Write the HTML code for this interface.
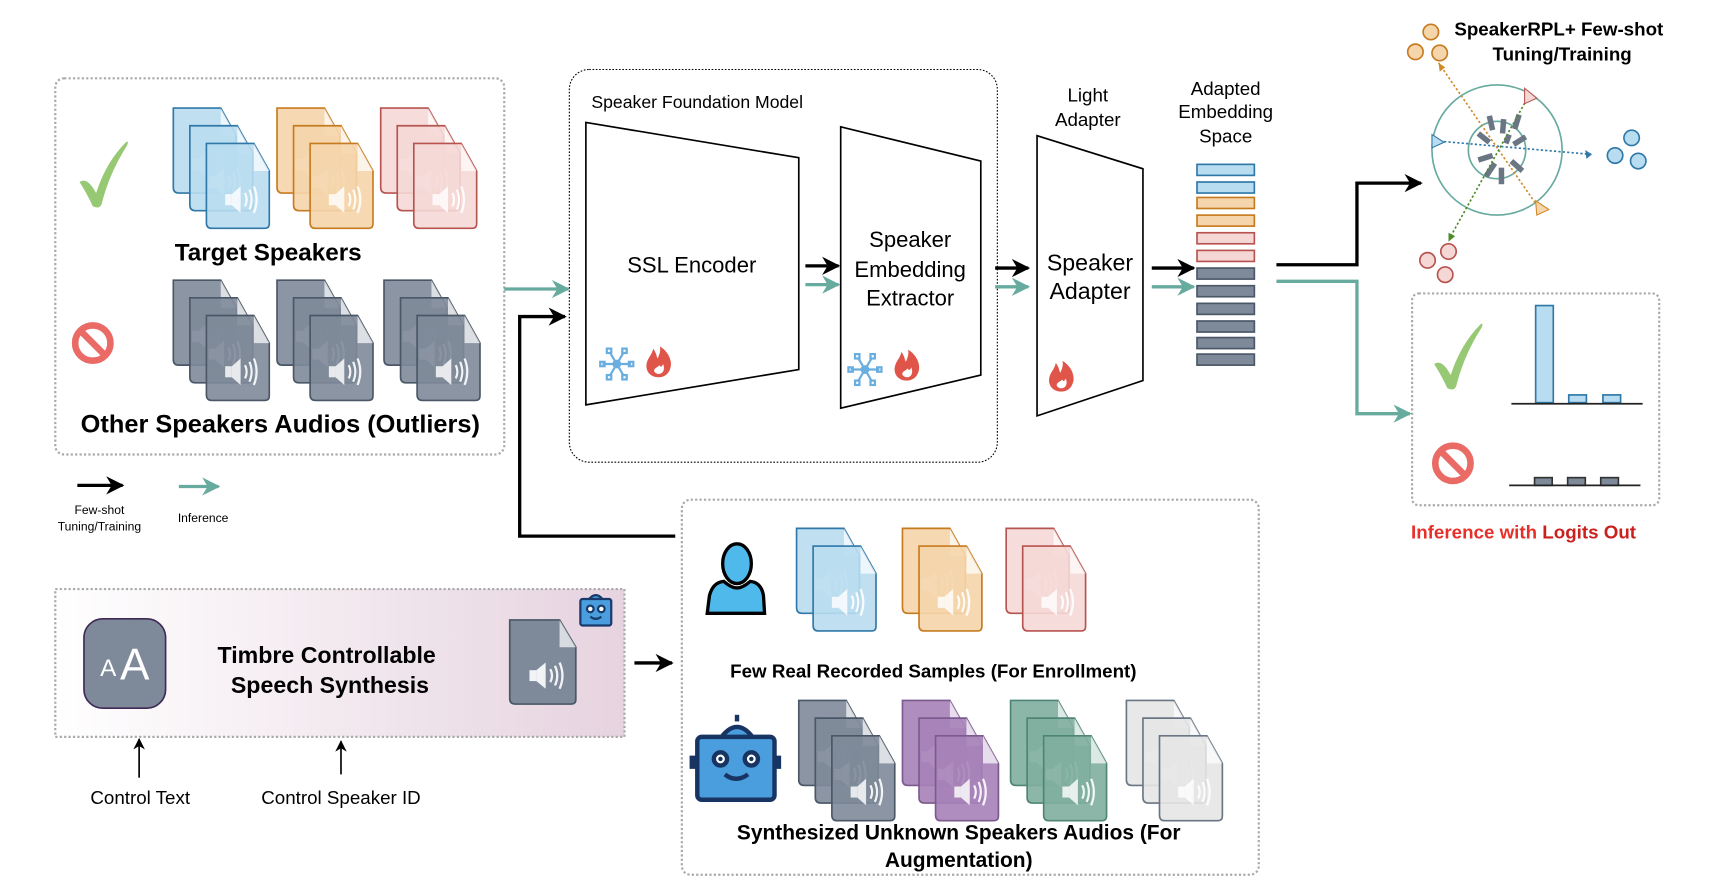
<!DOCTYPE html>
<html><head><meta charset="utf-8"><style>
html,body{margin:0;padding:0;background:#fff;}
svg{display:block;}
text{font-family:"Liberation Sans",Arial,sans-serif;}
</style></head><body>
<svg width="1720" height="888" viewBox="0 0 1559 805" xmlns="http://www.w3.org/2000/svg">
<defs>
<g id="doc">
  <path d="M0,0 H43 L57,25 V73 Q57,77 53,77 H5 Q0,77 0,72 Z"/>
  <path d="M43,0 L57,25 H43 Z" fill="#fff" fill-opacity="0.7" stroke="none"/>
  <g fill="#fff" stroke="none" opacity="0.9">
    <rect x="17" y="46" width="6" height="10"/>
    <path d="M23,46 L31,39 V63 L23,56 Z"/>
  </g>
  <g fill="none" stroke="#fff" stroke-width="2" opacity="0.9">
    <path d="M35,45 Q38,51 35,57"/><path d="M39,42 Q43,51 39,60"/><path d="M43,39 Q48,51 43,63"/>
  </g>
</g>
<g id="stack3">
  <use href="#doc" x="0" y="0"/><use href="#doc" x="15" y="16"/><use href="#doc" x="30" y="32"/>
</g>
<g id="stack2">
  <use href="#doc" x="0" y="0"/><use href="#doc" x="15" y="16"/>
</g>
<g id="fire">
  <path d="M0,12 C-8,12 -12,6 -11,0 C-10,-6 -6,-8 -5,-14 C-2,-10 -2,-7 -1,-5 C1,-9 2,-13 1,-16 C8,-12 12,-4 11,2 C10,8 6,12 0,12 Z M0,9 C4,9 6,5 4,0 C3,3 1,3 1,1 C-1,3 -5,4 -4,7 C-3,8 -2,9 0,9Z" fill="#e0554a" fill-rule="evenodd"/>
</g>
<g id="snow" stroke="#6aaee0" stroke-width="2" fill="none">
  <line x1="-13" y1="0" x2="13" y2="0"/><line x1="-6.5" y1="-11" x2="6.5" y2="11"/><line x1="-6.5" y1="11" x2="6.5" y2="-11"/>
  <circle cx="0" cy="0" r="3"/>
  <rect x="-15" y="-2" width="4" height="4"/><rect x="11" y="-2" width="4" height="4"/>
  <rect x="-9" y="-14" width="4" height="4"/><rect x="5" y="10" width="4" height="4"/>
  <rect x="-9" y="10" width="4" height="4"/><rect x="5" y="-14" width="4" height="4"/>
</g>
<g id="check"><path d="M-22,8 Q-15,3 -7,18 Q2,-10 20,-28 Q23,-30 21,-25 Q5,0 -2,28 Q-4,33 -10,30 Q-15,19 -22,8Z" fill="#97c874"/></g>
<g id="nosym"><circle r="16" fill="none" stroke="#ea6b66" stroke-width="6"/><line x1="-11" y1="-11" x2="11" y2="11" stroke="#ea6b66" stroke-width="6"/></g>
<linearGradient id="pg" x1="0" x2="1" y1="0" y2="0"><stop offset="0" stop-color="#ffffff"/><stop offset="1" stop-color="#e6d3df"/></linearGradient>
<marker id="ab" viewBox="0 0 10 10" refX="9" refY="5" markerWidth="5.5" markerHeight="5.5" orient="auto"><path d="M0,0 L10,5 L0,10 L3,5Z" fill="#000"/></marker>
<marker id="at" viewBox="0 0 10 10" refX="9" refY="5" markerWidth="5.5" markerHeight="5.5" orient="auto"><path d="M0,0 L10,5 L0,10 L3,5Z" fill="#67ab9f"/></marker>
<marker id="as" viewBox="0 0 10 10" refX="9" refY="5" markerWidth="7" markerHeight="9" orient="auto"><path d="M0,0 L10,5 L0,10 L3,5Z" fill="#000"/></marker>
</defs>

<!-- Left box -->
<rect x="50" y="71" width="407" height="341" rx="8" fill="none" stroke="#aaa" stroke-width="2" stroke-dasharray="2,2"/>
<use href="#check" x="94" y="157"/>
<use href="#nosym" x="84" y="311"/>
<use href="#stack3" x="157" y="98" fill="#b9ddf0" stroke="#2f78a8" stroke-width="1.5" fill-opacity="0.9"/>
<use href="#stack3" x="251" y="98" fill="#f5d5ab" stroke="#c77b1f" stroke-width="1.5" fill-opacity="0.9"/>
<use href="#stack3" x="345" y="98" fill="#f5d8d6" stroke="#b85450" stroke-width="1.5" fill-opacity="0.9"/>
<text x="243" y="236" font-size="22" font-weight="bold" text-anchor="middle">Target Speakers</text>
<use href="#stack3" x="157" y="254" fill="#7e8a99" stroke="#4a5766" stroke-width="1.5" fill-opacity="0.9"/>
<use href="#stack3" x="251" y="254" fill="#7e8a99" stroke="#4a5766" stroke-width="1.5" fill-opacity="0.9"/>
<use href="#stack3" x="348" y="254" fill="#7e8a99" stroke="#4a5766" stroke-width="1.5" fill-opacity="0.9"/>
<text x="254" y="392" font-size="23" font-weight="bold" text-anchor="middle">Other Speakers Audios (Outliers)</text>

<!-- Legend -->
<line x1="70" y1="440" x2="111" y2="440" stroke="#000" stroke-width="3" marker-end="url(#ab)"/>
<text x="90" y="466" font-size="11" text-anchor="middle">Few-shot</text>
<text x="90" y="481" font-size="11" text-anchor="middle">Tuning/Training</text>
<line x1="162" y1="441" x2="198" y2="441" stroke="#67ab9f" stroke-width="3" marker-end="url(#at)"/>
<text x="184" y="473" font-size="11" text-anchor="middle">Inference</text>

<!-- arrows into foundation -->
<line x1="457" y1="262" x2="515" y2="262" stroke="#67ab9f" stroke-width="3" marker-end="url(#at)"/>
<polyline points="612,486 471,486 471,287 512,287" fill="none" stroke="#000" stroke-width="3" marker-end="url(#ab)"/>

<!-- Foundation model -->
<rect x="516" y="63" width="388" height="356" rx="18" fill="none" stroke="#000" stroke-width="1" stroke-dasharray="1.5,1.5"/>
<text x="536" y="98" font-size="16">Speaker Foundation Model</text>
<polygon points="531,111 724,143 724,335 531,367" fill="#fff" stroke="#000" stroke-width="1.5"/>
<text x="627" y="247" font-size="20" text-anchor="middle">SSL Encoder</text>
<use href="#snow" x="559" y="330"/>
<use href="#fire" x="597" y="330"/>
<line x1="730" y1="241" x2="760" y2="241" stroke="#000" stroke-width="3" marker-end="url(#ab)"/>
<line x1="730" y1="258" x2="760" y2="258" stroke="#67ab9f" stroke-width="3" marker-end="url(#at)"/>
<polygon points="762,115 889,146 889,340 762,370" fill="#fff" stroke="#000" stroke-width="1.5"/>
<text x="825" y="224" font-size="20" text-anchor="middle">Speaker</text>
<text x="825" y="251" font-size="20" text-anchor="middle">Embedding</text>
<text x="825" y="277" font-size="20" text-anchor="middle">Extractor</text>
<use href="#snow" x="784" y="335"/>
<use href="#fire" x="822" y="333"/>

<!-- Light adapter -->
<text x="986" y="92" font-size="17" text-anchor="middle">Light</text>
<text x="986" y="114" font-size="17" text-anchor="middle">Adapter</text>
<line x1="902" y1="243" x2="932" y2="243" stroke="#000" stroke-width="3" marker-end="url(#ab)"/>
<line x1="902" y1="260" x2="932" y2="260" stroke="#67ab9f" stroke-width="3" marker-end="url(#at)"/>
<polygon points="940,123 1036,153 1036,345 940,377" fill="#fff" stroke="#000" stroke-width="1.5"/>
<text x="988" y="245" font-size="21" text-anchor="middle">Speaker</text>
<text x="988" y="271" font-size="21" text-anchor="middle">Adapter</text>
<use href="#fire" x="962" y="343"/>

<!-- Embedding space -->
<text x="1111" y="86" font-size="17" text-anchor="middle">Adapted</text>
<text x="1111" y="107" font-size="17" text-anchor="middle">Embedding</text>
<text x="1111" y="129" font-size="17" text-anchor="middle">Space</text>
<line x1="1044" y1="243" x2="1082" y2="243" stroke="#000" stroke-width="3" marker-end="url(#ab)"/>
<line x1="1044" y1="260" x2="1082" y2="260" stroke="#67ab9f" stroke-width="3" marker-end="url(#at)"/>
<g stroke-width="1.5">
<rect x="1085" y="149" width="52" height="10" fill="#b9ddf0" stroke="#2f78a8"/>
<rect x="1085" y="165" width="52" height="10" fill="#b9ddf0" stroke="#2f78a8"/>
<rect x="1085" y="179" width="52" height="10" fill="#f5d5ab" stroke="#c77b1f"/>
<rect x="1085" y="195" width="52" height="10" fill="#f5d5ab" stroke="#c77b1f"/>
<rect x="1085" y="211" width="52" height="10" fill="#f5d8d6" stroke="#b85450"/>
<rect x="1085" y="227" width="52" height="10" fill="#f5d8d6" stroke="#b85450"/>
<rect x="1085" y="243" width="52" height="10" fill="#7e8a99" stroke="#4a5766"/>
<rect x="1085" y="259" width="52" height="10" fill="#7e8a99" stroke="#4a5766"/>
<rect x="1085" y="275" width="52" height="10" fill="#7e8a99" stroke="#4a5766"/>
<rect x="1085" y="291" width="52" height="10" fill="#7e8a99" stroke="#4a5766"/>
<rect x="1085" y="306" width="52" height="10" fill="#7e8a99" stroke="#4a5766"/>
<rect x="1085" y="321" width="52" height="10" fill="#7e8a99" stroke="#4a5766"/>
</g>
<polyline points="1157,240 1230,240 1230,166 1288,166" fill="none" stroke="#000" stroke-width="3" marker-end="url(#ab)"/>
<polyline points="1157,255 1230,255 1230,375 1278,375" fill="none" stroke="#67ab9f" stroke-width="3" marker-end="url(#at)"/>

<!-- RPL diagram -->
<text x="1413" y="32" font-size="17" font-weight="bold" text-anchor="middle">SpeakerRPL+ Few-shot</text>
<text x="1416" y="55" font-size="17" font-weight="bold" text-anchor="middle">Tuning/Training</text>
<circle cx="1357" cy="136" r="59" fill="none" stroke="#67ab9f" stroke-width="1.5"/>
<circle cx="1357" cy="136" r="26" fill="none" stroke="#67ab9f" stroke-width="1.5"/>
<g stroke="#6b7684" stroke-width="5">
<line x1="1350" y1="105" x2="1353" y2="118"/><line x1="1363" y1="108" x2="1362" y2="121"/>
<line x1="1377" y1="104" x2="1373" y2="117"/><line x1="1340" y1="121" x2="1350" y2="129"/>
<line x1="1383" y1="124" x2="1372" y2="131"/><line x1="1340" y1="145" x2="1353" y2="141"/>
<line x1="1347" y1="160" x2="1355" y2="148"/><line x1="1370" y1="146" x2="1380" y2="155"/>
<line x1="1361" y1="152" x2="1361" y2="167"/><line x1="1368" y1="122" x2="1365" y2="130"/>
</g>
<line x1="1305" y1="128" x2="1443" y2="140" stroke="#2f78a8" stroke-width="1.5" stroke-dasharray="2,2"/>
<path d="M1443,140 l-6,-4 l1,8z" fill="#2f78a8"/>
<path d="M1298,122 L1309,129 L1298,134Z" fill="#b9ddf0" stroke="#2f78a8"/>
<line x1="1304" y1="57" x2="1393" y2="186" stroke="#d08a2a" stroke-width="1.5" stroke-dasharray="2,2"/>
<path d="M1304,57 l1,8 l5,-4z" fill="#d08a2a"/>
<path d="M1392,182 L1404,190 L1393,195Z" fill="#f5d5ab" stroke="#d08a2a"/>
<line x1="1384" y1="90" x2="1314" y2="216" stroke="#4d8a2a" stroke-width="1.5" stroke-dasharray="2,2"/>
<path d="M1313,219 l0,-8 l6,3z" fill="#4d8a2a"/>
<path d="M1382,80 L1393,89 L1382,94Z" fill="#f5d8d6" stroke="#b85450"/>
<g fill="#f5d5ab" stroke="#c77b1f" stroke-width="1.5">
<circle cx="1297" cy="29" r="7"/><circle cx="1283" cy="47" r="7"/><circle cx="1305" cy="48" r="7"/></g>
<g fill="#b9ddf0" stroke="#2f78a8" stroke-width="1.5">
<circle cx="1479" cy="125" r="7"/><circle cx="1464" cy="141" r="7"/><circle cx="1485" cy="146" r="7"/></g>
<g fill="#f5d8d6" stroke="#b85450" stroke-width="1.5">
<circle cx="1313" cy="228" r="7"/><circle cx="1294" cy="236" r="7"/><circle cx="1310" cy="249" r="7"/></g>

<!-- Logits box -->
<rect x="1280" y="266" width="224" height="192" rx="6" fill="none" stroke="#aaa" stroke-width="2" stroke-dasharray="2,2"/>
<use href="#check" x="1322" y="322"/>
<use href="#nosym" x="1317" y="420"/>
<rect x="1392" y="277" width="16" height="88" fill="#b9ddf0" stroke="#2f78a8" stroke-width="1.5"/>
<rect x="1422" y="358" width="16" height="7" fill="#b9ddf0" stroke="#2f78a8" stroke-width="1.5"/>
<rect x="1453" y="358" width="16" height="7" fill="#b9ddf0" stroke="#2f78a8" stroke-width="1.5"/>
<line x1="1370" y1="366" x2="1489" y2="366" stroke="#222" stroke-width="1.5"/>
<g fill="#7e8a99" stroke="#333" stroke-width="1.5">
<rect x="1391" y="433" width="16" height="7"/><rect x="1421" y="433" width="16" height="7"/><rect x="1451" y="433" width="16" height="7"/></g>
<line x1="1368" y1="440" x2="1487" y2="440" stroke="#222" stroke-width="1.5"/>
<text x="1381" y="488" font-size="17" font-weight="bold" text-anchor="middle"><tspan fill="#e8302a">Inference with </tspan><tspan fill="#c9211d">Logits Out</tspan></text>

<!-- Synthesis box -->
<rect x="50" y="534" width="516" height="134" fill="url(#pg)" stroke="#aaa" stroke-width="2" stroke-dasharray="2,2"/>
<rect x="76" y="561" width="74" height="81" rx="17" fill="#7e8a99" stroke="#3e2a55" stroke-width="1.5"/>
<text x="98" y="613" font-size="22" fill="#fff" text-anchor="middle">A</text>
<text x="122" y="616" font-size="40" fill="#fff" text-anchor="middle">A</text>
<text x="296" y="601" font-size="21" font-weight="bold" text-anchor="middle">Timbre Controllable</text>
<text x="299" y="628" font-size="21" font-weight="bold" text-anchor="middle">Speech Synthesis</text>
<g transform="translate(462,562) scale(1.05,0.99)"><use href="#doc" fill="#7e8a99" stroke="#4a5766" stroke-width="1.5"/></g>
<!-- small robot -->
<g stroke="#1a3a6b" stroke-width="2">
<path d="M534,543 Q540,536 546,543" fill="#4a9ede"/>
<rect x="526" y="543" width="28" height="24" rx="2" fill="#4a9ede"/>
<circle cx="535" cy="552" r="3" fill="#fff"/><circle cx="545" cy="552" r="3" fill="#fff"/>
<path d="M535,559 Q540,563 545,559" fill="none"/>
</g>
<line x1="575" y1="601" x2="609" y2="601" stroke="#000" stroke-width="3" marker-end="url(#ab)"/>
<line x1="126" y1="705" x2="126" y2="670" stroke="#000" stroke-width="1.5" marker-end="url(#as)"/>
<line x1="309" y1="702" x2="309" y2="672" stroke="#000" stroke-width="1.5" marker-end="url(#as)"/>
<text x="127" y="729" font-size="17" text-anchor="middle">Control Text</text>
<text x="309" y="729" font-size="17" text-anchor="middle">Control Speaker ID</text>

<!-- Enrollment box -->
<rect x="618" y="453" width="523" height="340" rx="8" fill="none" stroke="#aaa" stroke-width="2" stroke-dasharray="2,2"/>
<path d="M641,556 L643,540 Q646,528 656,527 Q663,533 668,533 Q673,533 680,527 Q690,528 692,540 L693,556 Z" fill="#4fb9ec" stroke="#000" stroke-width="3"/>
<ellipse cx="668" cy="511" rx="13" ry="18" fill="#4fb9ec" stroke="#000" stroke-width="3"/>
<use href="#stack2" x="722" y="479" fill="#b9ddf0" stroke="#2f78a8" stroke-width="1.5" fill-opacity="0.9"/>
<use href="#stack2" x="818" y="479" fill="#f5d5ab" stroke="#c77b1f" stroke-width="1.5" fill-opacity="0.9"/>
<use href="#stack2" x="912" y="479" fill="#f5d8d6" stroke="#b85450" stroke-width="1.5" fill-opacity="0.9"/>
<text x="846" y="614" font-size="17" font-weight="bold" text-anchor="middle">Few Real Recorded Samples (For Enrollment)</text>
<!-- big robot -->
<g stroke="#173463" stroke-width="4">
<path d="M654,668 Q668,650 682,668" fill="#4a9ede"/>
<line x1="668" y1="654" x2="668" y2="648"/>
<rect x="627" y="687" width="4" height="8" fill="#173463"/><rect x="702" y="687" width="4" height="8" fill="#173463"/>
<rect x="632" y="668" width="70" height="57" rx="4" fill="#4a9ede"/>
<circle cx="653" cy="688" r="6" fill="#fff"/><circle cx="681" cy="688" r="6" fill="#fff"/>
<path d="M657,702 Q667,710 678,702" fill="none"/>
</g>
<circle cx="653" cy="688" r="2" fill="#173463"/><circle cx="681" cy="688" r="2" fill="#173463"/>
<use href="#stack3" x="724" y="635" fill="#7e8a99" stroke="#4a5766" stroke-width="1.5" fill-opacity="0.9"/>
<use href="#stack3" x="818" y="635" fill="#a682b8" stroke="#7b5a8f" stroke-width="1.5" fill-opacity="0.9"/>
<use href="#stack3" x="916" y="635" fill="#7fae9f" stroke="#4f8576" stroke-width="1.5" fill-opacity="0.9"/>
<use href="#stack3" x="1021" y="635" fill="#e6e6e6" stroke="#6b7684" stroke-width="1.5" fill-opacity="0.9"/>
<text x="869" y="761" font-size="19" font-weight="bold" text-anchor="middle">Synthesized Unknown Speakers Audios (For</text>
<text x="869" y="786" font-size="19" font-weight="bold" text-anchor="middle">Augmentation)</text>
</svg>
</body></html>
